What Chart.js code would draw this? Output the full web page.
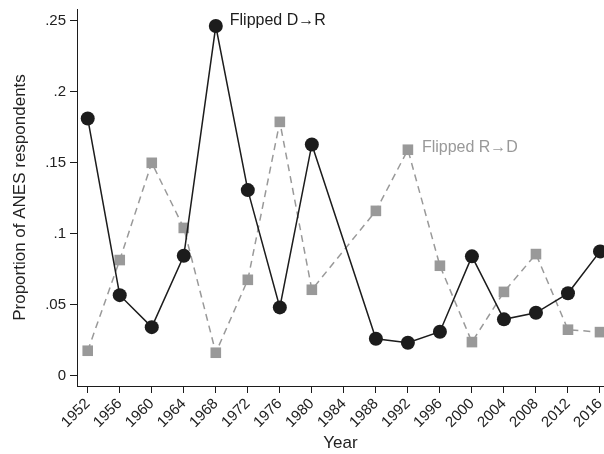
<!DOCTYPE html>
<html>
<head>
<meta charset="utf-8">
<script src="https://cdn.jsdelivr.net/npm/chart.js@4"></script>
<style>
  html, body { margin: 0; padding: 0; background: #ffffff; }
  canvas { display: block; }
</style>
</head>
<body>
<canvas id="chart" width="604" height="454"></canvas>
<script>
// Survey years (no data collected for 1984)
const years = [1952, 1956, 1960, 1964, 1968, 1972, 1976, 1980, 1984, 1988, 1992, 1996, 2000, 2004, 2008, 2012, 2016];

// Share of respondents who switched from Democrat to Republican
const flippedDR = [0.181, 0.0567, 0.0342, 0.0844, 0.246, 0.1306, 0.0481, 0.1627, null, 0.026, 0.0232, 0.031, 0.084, 0.0397, 0.0443, 0.058, 0.0875];

// Share of respondents who switched from Republican to Democrat
const flippedRD = [0.0176, 0.0814, 0.1498, 0.104, 0.0162, 0.0675, 0.1786, 0.0605, null, 0.116, 0.159, 0.0774, 0.0237, 0.059, 0.0856, 0.0324, 0.0307];

const yTicks = [0, 0.05, 0.1, 0.15, 0.2, 0.25];
const yTickLabels = ['0', '.05', '.1', '.15', '.2', '.25'];

const seriesNames = ['Flipped D\u2192R', 'Flipped R\u2192D'];
// Year next to which each series is labelled
const labelYears = [1968, 1992];

const DARK = '#1c1c1c';
const GREY = '#999999';
const FONT = '"Liberation Sans", Arial, Helvetica, sans-serif';

const toPoints = (vals) => years.map((yr, i) => ({ x: yr, y: vals[i] }));

// Series names written beside a chosen point of each line
const seriesLabels = {
  id: 'seriesLabels',
  afterDatasetsDraw(chart) {
    const ctx = chart.ctx;
    const xs = chart.scales.x, ys = chart.scales.y;
    const colors = [DARK, GREY];
    const dy = [-5, -2];
    ctx.save();
    ctx.font = '16px ' + FONT;
    ctx.textAlign = 'left';
    ctx.textBaseline = 'middle';
    chart.data.datasets.forEach((ds, i) => {
      const idx = years.indexOf(labelYears[i]);
      const pt = ds.data[idx];
      ctx.fillStyle = colors[i];
      ctx.fillText(seriesNames[i], xs.getPixelForValue(pt.x) + 14, ys.getPixelForValue(pt.y) + dy[i]);
    });
    ctx.restore();
  }
};

new Chart(document.getElementById('chart'), {
  type: 'line',
  data: {
    datasets: [
      {
        label: seriesNames[0],
        data: toPoints(flippedDR),
        borderColor: DARK,
        backgroundColor: DARK,
        borderWidth: 1.5,
        pointStyle: 'circle',
        pointRadius: 7,
        pointBorderWidth: 0,
        pointBackgroundColor: DARK,
        spanGaps: true,
        tension: 0,
        clip: false
      },
      {
        label: seriesNames[1],
        data: toPoints(flippedRD),
        borderColor: GREY,
        backgroundColor: GREY,
        borderWidth: 1.5,
        borderDash: [7, 5],
        pointStyle: 'rect',
        pointRadius: 7.5,
        pointBorderWidth: 0,
        pointBackgroundColor: GREY,
        spanGaps: true,
        tension: 0,
        clip: false
      }
    ]
  },
  options: {
    responsive: false,
    animation: false,
    layout: { autoPadding: false, padding: { top: 9, right: 0, left: 0, bottom: 0 } },
    plugins: {
      legend: { display: false },
      tooltip: { enabled: false }
    },
    scales: {
      x: {
        type: 'linear',
        min: 1950.66,
        max: 2016.5,
        afterBuildTicks: (scale) => { scale.ticks = years.map(v => ({ value: v })); },
        afterFit: (scale) => {
          scale.height = 68;
          scale.paddingLeft = 0;
          scale.paddingRight = 0;
        },
        grid: { display: true, drawOnChartArea: false, drawTicks: true, tickLength: 7, color: DARK, lineWidth: 1 },
        border: { display: true, color: DARK, width: 1 },
        ticks: {
          autoSkip: false,
          minRotation: 45,
          maxRotation: 45,
          padding: 2,
          color: '#222222',
          font: { family: FONT, size: 15 },
          callback: (v) => String(v)
        },
        title: {
          display: true,
          text: 'Year',
          color: '#222222',
          font: { family: FONT, size: 17, lineHeight: 1.2 },
          padding: { top: 3, bottom: 0 }
        }
      },
      y: {
        min: -0.0072,
        max: 0.258,
        afterBuildTicks: (scale) => { scale.ticks = yTicks.map(v => ({ value: v })); },
        afterFit: (scale) => {
          scale.width = 77;
          scale.paddingTop = 0;
          scale.paddingBottom = 0;
        },
        grid: { display: true, drawOnChartArea: false, drawTicks: true, tickLength: 7, color: DARK, lineWidth: 1 },
        border: { display: true, color: DARK, width: 1 },
        ticks: {
          padding: 4,
          color: '#222222',
          font: { family: FONT, size: 15 },
          callback: (v) => yTickLabels[yTicks.indexOf(v)]
        },
        title: {
          display: true,
          text: 'Proportion of ANES respondents',
          color: '#222222',
          font: { family: FONT, size: 17, lineHeight: 1.2 },
          padding: { top: 10, bottom: 0 }
        }
      }
    }
  },
  plugins: [seriesLabels]
});
</script>
</body>
</html>
